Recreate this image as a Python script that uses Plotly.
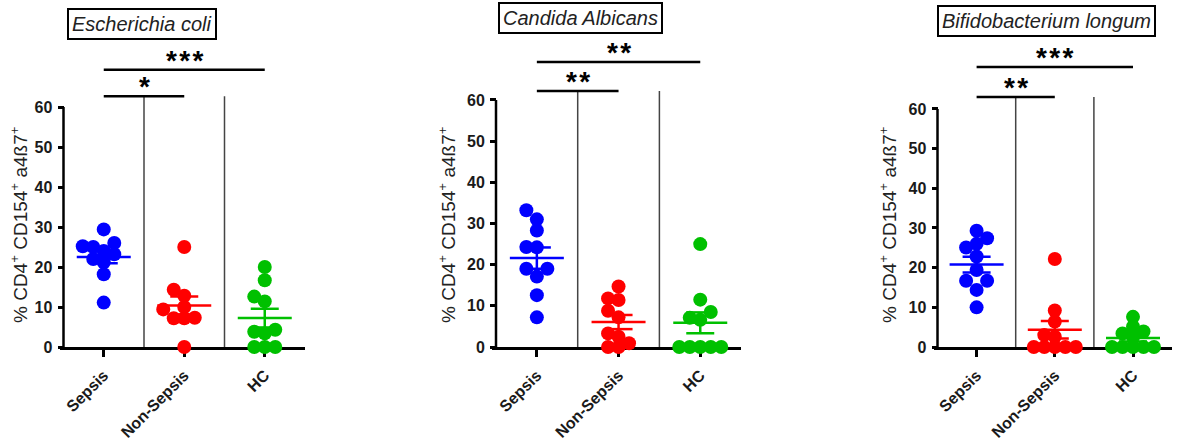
import numpy as np
import plotly.graph_objects as go

# ---- data -------------------------------------------------------------
groups = ["Sepsis", "Non-Sepsis", "HC"]
group_colors = ["#0000FF", "#FF0000", "#00C000"]
y_tick_values = [0, 10, 20, 30, 40, 50, 60]
y_title = "% CD4<sup>+</sup> CD154<sup>+</sup> a4ß7<sup>+</sup>"

ecoli_sepsis = [29.4, 26.0, 25.2, 25.0, 24.0, 23.2, 22.0, 21.2, 18.2, 11.1]
ecoli_non_sepsis = [25.0, 14.3, 12.8, 10.0, 9.4, 7.3, 7.2, 7.2, 0.0]
ecoli_hc = [20.0, 16.7, 12.6, 11.4, 4.3, 3.8, 3.4, 0.0, 0.0, 0.0]

candida_sepsis = [33.2, 31.0, 28.3, 24.3, 24.2, 19.0, 19.0, 17.1, 12.6, 7.2]
candida_non_sepsis = [14.7, 11.8, 11.4, 8.8, 7.2, 3.3, 2.5, 0.9, 0.0, 0.0]
candida_hc = [25.0, 11.5, 8.5, 7.1, 6.6, 0.0, 0.0, 0.0, 0.0, 0.0]

bifido_sepsis = [29.3, 27.4, 26.0, 25.1, 22.8, 19.4, 16.7, 16.7, 14.4, 10.0]
bifido_non_sepsis = [22.2, 9.2, 6.4, 3.0, 2.6, 0.0, 0.0, 0.0, 0.0, 0.0]
bifido_hc = [7.6, 5.1, 3.9, 3.4, 2.5, 0.0, 0.0, 0.0, 0.0, 0.0]

organisms = ["Escherichia coli", "Candida Albicans", "Bifidobacterium longum"]
group_values = [
    [ecoli_sepsis, ecoli_non_sepsis, ecoli_hc],
    [candida_sepsis, candida_non_sepsis, candida_hc],
    [bifido_sepsis, bifido_non_sepsis, bifido_hc],
]
# significance: Sepsis vs Non-Sepsis, Sepsis vs HC
significance = [["*", "***"], ["**", "**"], ["**", "***"]]

# ---- page geometry (pixels) --------------------------------------------
W, H = 1177, 438
panel_geom = [
    # y-axis x, px per category, px of y=0, px per unit, title box centre, y-title x
    dict(axis_x=63.5, cat_px=80.5, zero_y=347, ppu=4.0, box=(142, 24), ytitle_x=19,
         short_y=62.7, long_y=69.3),
    dict(axis_x=496, cat_px=81.7, zero_y=347, ppu=4.117, box=(580.5, 18.5), ytitle_x=447,
         short_y=62.2, long_y=69.2),
    dict(axis_x=937.5, cat_px=78.2, zero_y=347, ppu=3.967, box=(1046.5, 20.5), ytitle_x=888,
         short_y=63.0, long_y=70.6),
]

MARKER = 14
FONT = "Arial, 'Liberation Sans', sans-serif"
INK = "#1a1a1a"


def swarm_offsets(values, ppu_y, ppu_x, diam):
    """Greedy scatter spread, bottom-up: each dot takes the slot closest to
    the group centre where it does not overlap the dots already placed by
    more than a small margin."""
    step = 0.75 * diam
    min_d2 = (0.7 * diam) ** 2
    cands = [0.0]
    for k in range(1, 12):
        cands += [-k * step, k * step]
    placed, offs = [], [0.0] * len(values)
    for i in sorted(range(len(values)), key=lambda j: values[j]):
        py = values[i] * ppu_y
        for c in cands:
            if all((c - qx) ** 2 + (py - qy) ** 2 >= min_d2 for qx, qy in placed):
                break
        placed.append((c, py))
        offs[i] = c / ppu_x
    return offs


fig = go.Figure()
shapes, annotations = [], []

for p, (name, vals_by_group, stars, g) in enumerate(
        zip(organisms, group_values, significance, panel_geom)):
    xa = "x" if p == 0 else f"x{p + 1}"
    ya = "y" if p == 0 else f"y{p + 1}"
    xkey = "xaxis" if p == 0 else f"xaxis{p + 1}"
    ykey = "yaxis" if p == 0 else f"yaxis{p + 1}"

    pad = 4
    fig.update_layout({
        xkey: dict(
            domain=[(g["axis_x"] - pad) / W, (g["axis_x"] + 3 * g["cat_px"]) / W],
            range=[-0.5 - pad / g["cat_px"], 2.5], automargin=False,
            anchor=ya, tickmode="array", tickvals=[0, 1, 2], ticktext=groups,
            tickangle=-45, ticks="outside", ticklen=7, tickwidth=2.5, tickcolor="black",
            ticklabelstandoff=3,
            showline=True, linewidth=2.5, linecolor="black", showgrid=False,
            zeroline=False, layer="below traces",
            tickfont=dict(family=FONT, size=16, color=INK, weight="bold"),
        ),
        ykey: dict(
            domain=[(H - g["zero_y"]) / H, 1],
            range=[0, g["zero_y"] / g["ppu"]], automargin=False,
            anchor="free", position=g["axis_x"] / W,
            tickmode="array", tickvals=y_tick_values,
            ticks="outside", ticklen=6, tickwidth=2.5, tickcolor="black",
            ticklabelstandoff=2,
            showline=False, showgrid=False, zeroline=False, layer="below traces",
            tickfont=dict(family=FONT, size=16, color=INK, weight="bold"),
        ),
    })

    # y axis line stops at the top tick
    shapes.append(dict(type="line", xref=xa, yref=ya, x0=-0.5, x1=-0.5,
                       y0=0, y1=y_tick_values[-1], line=dict(color="black", width=2.5)))
    # group separators
    for sx in (0.5, 1.5):
        shapes.append(dict(type="line", xref=xa, yref=ya, x0=sx, x1=sx, y0=0,
                           y1=g["short_y"], line=dict(color="#444444", width=1.5)))
    # significance bars
    for x1, by in ((1, g["short_y"]), (2, g["long_y"])):
        shapes.append(dict(type="line", xref=xa, yref=ya, x0=0, x1=x1, y0=by, y1=by,
                           line=dict(color="black", width=2.5)))
    for (sx, by), s in zip(((0.5, g["short_y"]), (1.0, g["long_y"])), stars):
        annotations.append(dict(xref=xa, yref=ya, x=sx, y=by, yanchor="bottom",
                                yshift=-8, showarrow=False,
                                text="\u200a".join(s),
                                font=dict(family=FONT, size=28, color="black",
                                          weight="bold")))

    for gi, vals in enumerate(vals_by_group):
        v = np.asarray(vals, dtype=float)
        offs = swarm_offsets(vals, g["ppu"], g["cat_px"], MARKER)
        fig.add_trace(go.Scatter(
            x=gi + np.asarray(offs), y=v, mode="markers", xaxis=xa, yaxis=ya,
            marker=dict(size=MARKER, color=group_colors[gi], line=dict(width=0)),
            cliponaxis=False, showlegend=False, hoverinfo="y"))

    # mean +/- SEM
    for gi, vals in enumerate(vals_by_group):
        v = np.asarray(vals, dtype=float)
        m = v.mean()
        s = v.std(ddof=1) / np.sqrt(len(v))
        hw = 27 / g["cat_px"]
        cw = 14 / g["cat_px"]
        xs = [gi - hw, gi + hw, None, gi - cw, gi + cw, None,
              gi - cw, gi + cw, None, gi, gi]
        ys = [m, m, None, m + s, m + s, None, m - s, m - s, None, m + s, m - s]
        fig.add_trace(go.Scatter(
            x=xs, y=ys, mode="lines", xaxis=xa, yaxis=ya,
            line=dict(color=group_colors[gi], width=2.5),
            cliponaxis=False, showlegend=False, hoverinfo="skip"))

    # organism title box
    bx, by = g["box"]
    annotations.append(dict(xref="paper", yref="paper", x=bx / W, y=1 - by / H,
                            xanchor="center", yanchor="middle", showarrow=False,
                            text=f"<i>{name}</i>", bordercolor="black", borderwidth=2,
                            borderpad=3, bgcolor="white",
                            font=dict(family=FONT, size=20, color="#222222")))
    # y axis title
    annotations.append(dict(xref="paper", yref="paper", x=g["ytitle_x"] / W,
                            y=1 - 225 / H, xanchor="center", yanchor="middle",
                            textangle=-90, showarrow=False, text=y_title,
                            font=dict(family=FONT, size=19, color="#222222")))

fig.update_layout(
    width=W, height=H, margin=dict(l=0, r=0, t=0, b=0),
    paper_bgcolor="white", plot_bgcolor="white",
    shapes=shapes, annotations=annotations, showlegend=False,
)

fig.write_html("out.html")
